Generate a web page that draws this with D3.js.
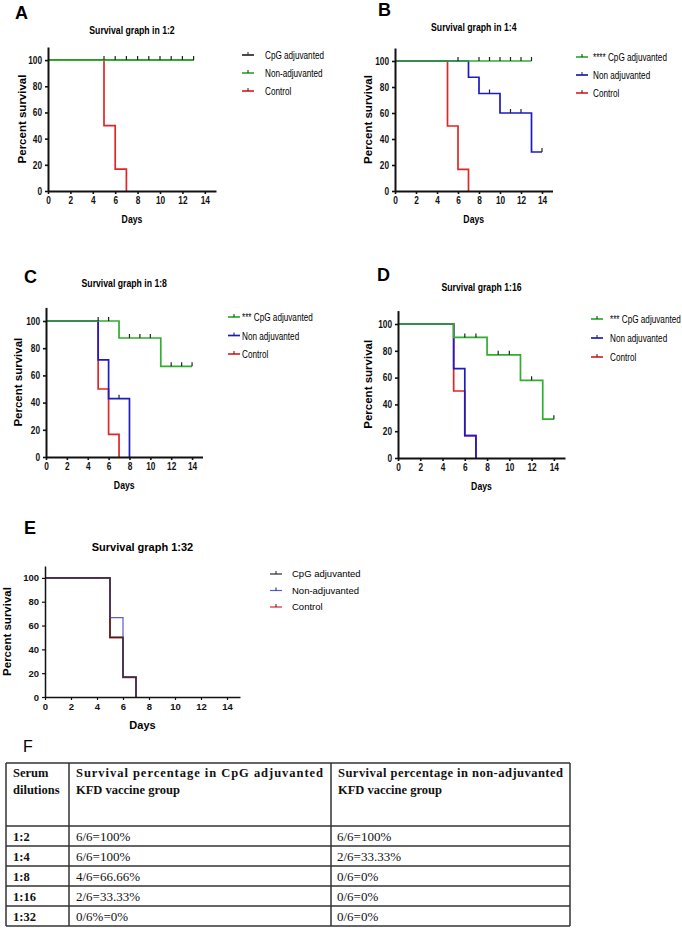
<!DOCTYPE html>
<html>
<head>
<meta charset="utf-8">
<script src="https://cdn.jsdelivr.net/npm/d3@7"></script>
<style>
body { margin: 0; background: #fff; }
.narrow { font-family: "Liberation Sans Narrow", "Arial Narrow", "Liberation Sans", sans-serif; }
.sans { font-family: "Liberation Sans", Arial, sans-serif; }
.serif { font-family: "Liberation Serif", "Times New Roman", serif; }
</style>
</head>
<body>
<svg id="fig" width="682" height="932"></svg>
<script>
// ---------- data ----------
var xTicks = [0, 2, 4, 6, 8, 10, 12, 14];
var yTicks = [0, 20, 40, 60, 80, 100];

// A  (1:2)   [day, percent survival]
var aCpg = [[0, 100], [13, 100]];
var aNon = [[0, 100], [13, 100]];
var aCtrl = [[0, 100], [5, 50], [6, 16.67], [7, 0]];
var aCensored = [5, 6, 7, 8, 9, 10, 11, 12, 13];

// B  (1:4)
var bCpg = [[0, 100], [13, 100]];
var bNon = [[0, 100], [7, 87.5], [8, 75], [10, 60], [13, 30], [14, 30]];
var bCtrl = [[0, 100], [5, 50], [6, 16.67], [7, 0]];
var bCpgCensored = [6, 8, 9, 10, 11, 12, 13];
var bNonCensored = [9, 11, 12, 14];

// C  (1:8)
var cCpg = [[0, 100], [7, 87.5], [11, 66.67], [14, 66.67]];
var cNon = [[0, 100], [5, 71.43], [6, 42.86], [8, 0]];
var cCtrl = [[0, 100], [5, 50], [6, 16.67], [7, 0]];
var cCpgCensored = [5, 6, 8, 9, 10, 12, 13, 14];
var cNonCensored = [7];

// D  (1:16)
var dCpg = [[0, 100], [5, 90], [8, 77], [11, 58], [13, 29], [14, 29]];
var dNon = [[0, 100], [5, 66.67], [6, 16.67], [7, 0]];
var dCtrl = [[0, 100], [5, 50], [6, 16.67], [7, 0]];
var dCpgCensored = [6, 7, 9, 10, 12, 14];

// E  (1:32)
var eCpg = [[0, 100], [5, 50], [6, 16.67], [7, 0]];
var eNon = [[0, 100], [5, 66.67], [6, 16.67], [7, 0]];
var eCtrl = [[0, 100], [5, 50], [6, 16.67], [7, 0]];

var titles = ["Survival graph in 1:2", "Survival graph in 1:4", "Survival graph in 1:8", "Survival graph 1:16", "Survival graph 1:32"];
var legendA = ["CpG adjuvanted", "Non-adjuvanted", "Control"];
var legendBCD = ["Non adjuvanted", "Control"];
var legendE = ["CpG adjuvanted", "Non-adjuvanted", "Control"];

// F table
var tableHead = [["Serum", "dilutions"],
                 ["Survival percentage in CpG adjuvanted", "KFD vaccine group"],
                 ["Survival percentage in non-adjuvanted", "KFD vaccine group"]];
var dilutions = ["1:2", "1:4", "1:8", "1:16", "1:32"];
var cpgSurvival = ["6/6=100%", "6/6=100%", "4/6=66.66%", "2/6=33.33%", "0/6%=0%"];
var nonSurvival = ["6/6=100%", "2/6=33.33%", "0/6=0%", "0/6=0%", "0/6=0%"];

// ---------- colours ----------
var GREEN = "#2fae2f", BLUE = "#1c1cc4", RED = "#e02626", BLACK = "#2a2a2a";

var svg = d3.select("#fig");

function survAt(steps, d) {
  var v = steps[0][1];
  steps.forEach(function(p) { if (p[0] <= d) v = p[1]; });
  return v;
}

// no narrow font installed: squeeze the glyphs horizontally around the text anchor
function condense(sel, f) {
  if (f === 1) return;
  sel.each(function() {
    var t = d3.select(this);
    var ax = +(t.attr("x") || 0), ay = +(t.attr("y") || 0);
    t.attr("transform", "translate(" + ax + "," + ay + ") scale(" + f + ",1) translate(" + (-ax) + "," + (-ay) + ")");
  });
}

// draws one Kaplan-Meier panel
function drawPanel(p) {
  var g = svg.append("g");
  var x = d3.scaleLinear().domain([0, 15]).range(p.xr);
  var y = d3.scaleLinear().domain([0, 110]).range(p.yr);
  var fontCls = p.thin ? "sans" : "narrow";
  var squeeze = p.thin ? 1 : 0.79;

  g.append("text").attr("class", "sans").attr("x", p.letter[0]).attr("y", p.letter[1])
    .attr("font-size", 18).attr("font-weight", "bold").text(p.id);

  var tt = g.append("text").attr("class", fontCls).attr("x", (p.xr[0] + p.xr[1]) / 2).attr("y", p.titleY)
    .attr("text-anchor", "middle").attr("font-size", 11).attr("font-weight", "bold").text(p.title);
  condense(tt, squeeze);

  // series
  var line = d3.line().x(function(d) { return x(d[0]); }).y(function(d) { return y(d[1]); })
    .curve(d3.curveStepAfter);
  p.series.forEach(function(s) {
    g.append("path").attr("d", line(s.data)).attr("fill", "none")
      .attr("stroke", s.color).attr("stroke-width", s.width || (p.thin ? 1.2 : 1.7));
    (s.censored || []).forEach(function(c) {
      g.append("line").attr("x1", x(c)).attr("x2", x(c))
        .attr("y1", y(survAt(s.data, c))).attr("y2", y(survAt(s.data, c)) - 4)
        .attr("stroke", "#222").attr("stroke-width", 1.2);
    });
  });

  // axes
  var ax = g.append("g").attr("transform", "translate(0," + p.yr[0] + ")")
    .call(d3.axisBottom(x).tickValues(xTicks).tickSize(3).tickSizeOuter(0).tickPadding(3));
  var ay = g.append("g").attr("transform", "translate(" + p.xr[0] + ",0)")
    .call(d3.axisLeft(y).tickValues(yTicks).tickSize(3).tickSizeOuter(0).tickPadding(3));
  [ax, ay].forEach(function(a) {
    a.select(".domain").attr("stroke", "#111").attr("stroke-width", p.thin ? 1.5 : 2);
    a.selectAll(".tick line").attr("stroke", "#111").attr("stroke-width", p.thin ? 1.2 : 1.6);
    var lab = a.selectAll(".tick text").attr("class", fontCls).attr("font-family", null)
      .attr("font-size", p.thin ? 9.5 : 10.5).attr("font-weight", "bold").attr("fill", "#111");
    condense(lab, squeeze);
  });

  var days = g.append("text").attr("class", fontCls).attr("x", (p.xr[0] + p.xr[1]) / 2).attr("y", p.yr[0] + 32)
    .attr("text-anchor", "middle").attr("font-size", 11).attr("font-weight", "bold").text("Days");
  condense(days, squeeze);

  g.append("text").attr("class", "sans")
    .attr("transform", "translate(" + p.ylabX + "," + (p.yr[0] + p.yr[1]) / 2 + ") rotate(-90)")
    .attr("text-anchor", "middle").attr("dy", "0.35em").attr("font-size", 11.5).attr("font-weight", "bold")
    .text("Percent survival");

  // legend
  p.legend.forEach(function(l, i) {
    var ly = p.leg[1] + i * p.leg[2];
    g.append("line").attr("x1", p.leg[0]).attr("x2", p.leg[0] + 12).attr("y1", ly).attr("y2", ly)
      .attr("stroke", l.color).attr("stroke-width", p.thin ? 1.2 : 1.7);
    g.append("line").attr("x1", p.leg[0] + 6).attr("x2", p.leg[0] + 6).attr("y1", ly).attr("y2", ly - 3)
      .attr("stroke", "#222").attr("stroke-width", 1);
    var lt = g.append("text").attr("class", fontCls).attr("x", p.leg[0] + p.leg[3]).attr("y", ly)
      .attr("dy", "0.35em").attr("font-size", p.thin ? 9.5 : 11.5).text(l.label);
    condense(lt, p.thin ? 1 : 0.71);
  });
}

var panels = [
  { id: "A", title: titles[0], xr: [48, 216], yr: [191, 47], letter: [15, 19], titleY: 34, ylabX: 22,
    leg: [242, 55, 18, 23],
    series: [{ data: aCtrl, color: RED }, { data: aCpg, color: BLACK },
             { data: aNon, color: GREEN, censored: aCensored }],
    legend: [{ label: legendA[0], color: BLACK }, { label: legendA[1], color: GREEN }, { label: legendA[2], color: RED }] },
  { id: "B", title: titles[1], xr: [395, 552.5], yr: [191, 48], letter: [378, 16], titleY: 31, ylabX: 368,
    leg: [576, 57, 18, 17],
    series: [{ data: bCtrl, color: RED }, { data: bNon, color: BLUE, censored: bNonCensored },
             { data: bCpg, color: GREEN, censored: bCpgCensored }],
    legend: [{ label: "**** CpG adjuvanted", color: GREEN }, { label: legendBCD[0], color: BLUE }, { label: legendBCD[1], color: RED }] },
  { id: "C", title: titles[2], xr: [46, 202.5], yr: [457, 307.4], letter: [24, 283], titleY: 287, ylabX: 18,
    leg: [228, 317, 18.5, 14],
    series: [{ data: cCtrl, color: RED }, { data: cNon, color: BLUE, censored: cNonCensored },
             { data: cCpg, color: GREEN, censored: cCpgCensored }],
    legend: [{ label: "*** CpG adjuvanted", color: GREEN }, { label: legendBCD[0], color: BLUE }, { label: legendBCD[1], color: RED }] },
  { id: "D", title: titles[3], xr: [398, 565], yr: [458, 310.6], letter: [377, 281], titleY: 291, ylabX: 368,
    leg: [591, 319, 19, 19],
    series: [{ data: dCtrl, color: RED }, { data: dNon, color: BLUE },
             { data: dCpg, color: GREEN, censored: dCpgCensored }],
    legend: [{ label: "*** CpG adjuvanted", color: GREEN }, { label: legendBCD[0], color: BLUE }, { label: legendBCD[1], color: RED }] },
  { id: "E", title: titles[4], xr: [45, 240], yr: [697, 566], letter: [24, 534], titleY: 551, ylabX: 7, thin: true,
    leg: [270, 574, 16.5, 22],
    series: [{ data: eCtrl, color: "#d42a2a", width: 2 }, { data: eNon, color: "#5a5ae0" },
             { data: eCpg, color: BLACK }],
    legend: [{ label: legendE[0], color: BLACK }, { label: legendE[1], color: "#5a5ae0" }, { label: legendE[2], color: "#d42a2a" }] }
];
panels.forEach(drawPanel);

// ---------- F: table ----------
var tg = svg.append("g");
tg.append("text").attr("class", "sans").attr("x", 23).attr("y", 752).attr("font-size", 16).text("F");

var colX = [6, 69, 331, 570];
var tableTop = 763, headBottom = 826;
var rowScale = d3.scaleBand().domain(dilutions).range([headBottom, 926]);

var hLines = [tableTop, headBottom].concat(dilutions.map(function(d) { return rowScale(d) + rowScale.bandwidth(); }));
hLines.forEach(function(yy) {
  tg.append("line").attr("x1", colX[0]).attr("x2", colX[3]).attr("y1", yy).attr("y2", yy)
    .attr("stroke", "#333").attr("stroke-width", 1.5);
});
colX.forEach(function(xx) {
  tg.append("line").attr("x1", xx).attr("x2", xx).attr("y1", tableTop).attr("y2", 926)
    .attr("stroke", "#333").attr("stroke-width", 1.5);
});

var headWidths = [null, 247, 225];
tableHead.forEach(function(lines, c) {
  lines.forEach(function(t, k) {
    var tx = tg.append("text").attr("class", "serif").attr("x", colX[c] + 7).attr("y", tableTop + 14 + k * 17)
      .attr("font-size", 12.5).attr("font-weight", "bold").attr("fill", "#111").text(t);
    if (k === 0 && headWidths[c]) tx.attr("textLength", headWidths[c]).attr("lengthAdjust", "spacing");
  });
});

dilutions.forEach(function(d, i) {
  var ty = rowScale(d) + 14.5;
  tg.append("text").attr("class", "serif").attr("x", colX[0] + 7).attr("y", ty)
    .attr("font-size", 12.5).attr("font-weight", "bold").attr("fill", "#111").text(d);
  tg.append("text").attr("class", "serif").attr("x", colX[1] + 7).attr("y", ty)
    .attr("font-size", 13).attr("fill", "#111").text(cpgSurvival[i]);
  tg.append("text").attr("class", "serif").attr("x", colX[2] + 6).attr("y", ty)
    .attr("font-size", 13).attr("fill", "#111").text(nonSurvival[i]);
});
</script>
</body>
</html>
